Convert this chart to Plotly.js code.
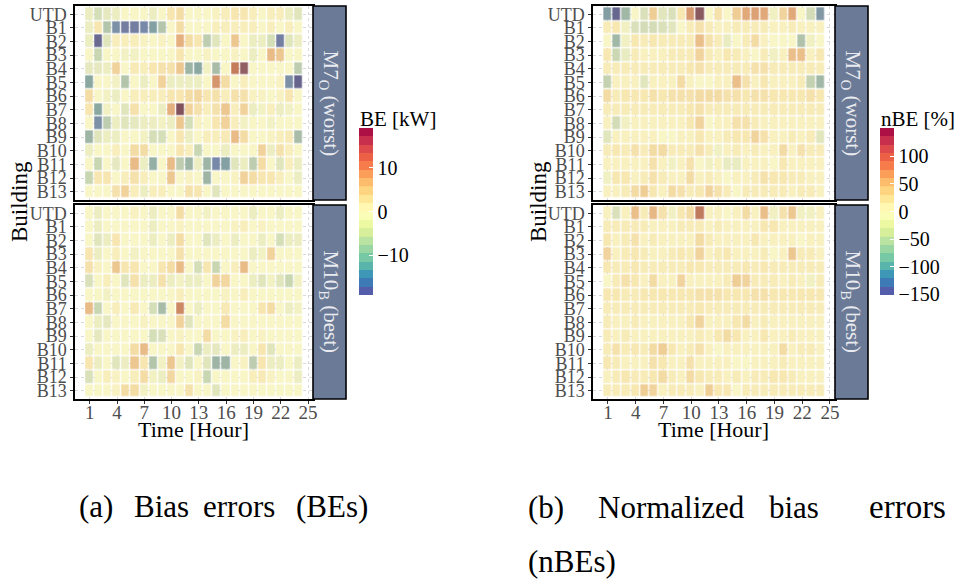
<!DOCTYPE html>
<html>
<head>
<meta charset="utf-8">
<script src="https://cdn.plot.ly/plotly-3.0.1.min.js"></script>
<style>html,body{margin:0;padding:0;background:#fff;}#chart{width:963px;height:579px;}</style>
</head>
<body>
<div id="chart"></div>
<script>
// ---------- DATA ----------
const hours = [1,2,3,4,5,6,7,8,9,10,11,12,13,14,15,16,17,18,19,20,21,22,23,24];
const buildings = ["UTD","B1","B2","B3","B4","B5","B6","B7","B8","B9","B10","B11","B12","B13"];
const xTickVals = [1,4,7,10,13,16,19,22,25];

// Bias errors [kW], model M7_O (worst)
const beWorst = [
 [-1,-3,-1.5,-1,0,0,0,-1,0,2,3,0,0,0,0.5,1,2,2,1,0,1,1,-1,-2],
 [-1,2,-6,-13,-15,-15,-14,-11,-6,0,3,0,0,0,1,1,1,1,1,0,1,0,1,0],
 [-1,-17,-2,1,1,1,0.5,0,0.5,0,7,3,2,-5,-2,0,5,0,-1,-1,-3,-15,-2,-1],
 [0,-4,0,0,-0.5,-0.5,0,0,0,0,2,0,0,0.5,0,0,0.5,0,-1,0,6,5,0,0],
 [-1.5,-1.5,-1,4,0,1.5,1,2,2.5,2.5,5,-8,-10,-0.5,-7,0,11,15,0,0,0,0,0,-5],
 [-10,0,0,-0.5,-6,0,-1,0,4,-1,-1,-1,-1,0,9,3,0,1,0,0,0,0.5,-13,-18],
 [3,0,-0.5,-1,0,1,1,1,1,2,2,3,3.5,2,2.5,1,2.5,2.5,0.5,0.5,0,0.5,2,0],
 [2,-10,-0.5,0,-2,2.5,0,0,-1,7,18,4,2.5,1,2.5,5,1,4,-1,-0.5,1,-1,-0.5,0],
 [0,-13,-5,-1,-2,-1.5,-1,-1,-0.5,-1,5,-3,0.5,0,2,4,1,-0.5,0,0,-0.5,0,0,0],
 [-8,-2,-1,-1,0,0,-0.5,-3,-3,0,2,-1,0,1,1,1.5,6,3,0,0,0.5,1,1.5,-7],
 [-1,0,0,1,0,3,3,0,0,0,2,1,-4,0,0,-1,0,0,0,4,-1,2.5,1,0],
 [0,-4,0,-1.5,0,6,-1,-9,0,6,-5,-8,-1,-8,-14,-11,-2,-1,-5,3,0,-2,1,-1],
 [-4,2,2,0,1,2.5,1,0,0,5,0,0.5,0,-8,0,0,0.5,4,3,2,2,1,0,-1],
 [0,0,0,2.5,4,1,-1,1,1,0,0,2.5,2,0,-2,0,0,0,0,0,0,0,0,0]
];

// Bias errors [kW], model M10_B (best)
const beBest = [
 [0,-1,0,0,0,0.5,0,-1,0,0,3,0,0,-0.5,0,0,0,0,-1,0,0,-1,0,0],
 [0,-1,0,0,0,0,0,-1,0,0,0.5,0,0,0,0,0,0.5,1,0,0.5,0,0,0,0],
 [0,-2,-1,2,0,0,0,-1,0,-1,3,0,0,-2,-1,0,-1,0,0,-1,0,-3,-1,-1],
 [2,-1,0,1,0,-0.5,0,0,0,0,2.5,0,0,0,0,0,0,0,-1,-0.5,4,0,0,0],
 [2.5,0.5,0,5,2,2,0,0,2,3,6,0,-3,2,-4,0,1,6,0,0,0,0,0,0],
 [-2.5,0,1,0,-2,2.5,-1,-1,2.5,-1,-0.5,-1,-1,0,4,3.5,0,0,-1,-2,-0.5,-2,-4,-0.5],
 [0,0,-0.5,0,0,0,0,0,0,0,1,0,0,0,0,0.5,0,1,0,0,0,0,0,0],
 [6,-4,0,1,0,1.5,0,-3,-7,0,10,0,-1,0,0,1.5,0,0,0,2,3,0,-1,-0.5],
 [0,-1,-1.5,0,0,0,0.5,0,0,0,4,-2,0,0,0,3,0,0,0,0,0,0,0,0],
 [0,-1.5,0,0,0,0,0,-3,-2.5,0,0.5,0,0,3,0,0,0.5,1,0,0.5,0,0,0,0],
 [-1,0,0,0,0,3,6,0,0,0,2,0,-4,-1,-1.5,0,-1,-1,0,2,-2,0,0,0],
 [2,-1,0,-2,-1,5,2,-6,-0.5,5,-0.5,-2,0,-2,-8,-8,0,0.5,-5,2,-1,-1,0,-1],
 [-2.5,0,1,0.5,0,1,3,-0.5,-1,3.5,0,0,0.5,-4,0,0,0,0,1,1.5,0.5,0,0,-1],
 [0,0,0,0.5,3,3,-0.5,0,0,0,0,2.5,0,0,-2,0,0,0,0,0,0,0,0,0]
];

// Normalized bias errors [%], model M7_O (worst)
const nbeWorst = [
 [-90,-140,-60,0,-20,35,-15,-20,15,70,130,0,20,0,35,60,65,60,-5,30,60,0,-25,-95],
 [10,15,-5,-20,-25,-25,-20,-15,0,10,20,10,5,5,10,10,10,10,5,5,10,5,5,5],
 [0,-60,-5,15,10,15,10,10,10,10,45,20,10,-10,0,10,25,5,0,0,0,-50,-5,0],
 [15,-30,-10,10,5,5,5,10,10,10,30,10,5,15,10,5,0,10,-5,5,45,45,5,15],
 [10,10,10,10,10,10,10,10,10,15,20,10,10,10,10,10,20,20,10,10,10,10,10,10],
 [-35,5,5,5,-15,5,5,5,25,5,0,0,5,5,45,20,5,15,5,5,5,10,-35,-60],
 [25,10,15,15,15,20,15,20,20,20,25,25,25,20,20,15,20,20,15,15,15,15,20,15],
 [10,10,10,10,10,10,10,10,10,15,20,10,10,10,10,10,10,10,10,10,10,10,10,10],
 [5,-25,-5,5,5,5,5,5,5,15,30,0,5,5,20,20,10,5,5,5,5,5,5,5],
 [-15,5,5,5,5,5,0,0,5,5,15,5,5,10,15,15,30,20,5,5,10,5,10,-15],
 [10,15,10,20,10,25,25,10,10,10,20,10,-5,5,10,5,10,5,5,25,5,20,10,10],
 [5,5,5,5,5,20,5,-5,5,20,0,-5,5,-10,-10,5,5,5,0,15,5,5,5,5],
 [-5,15,15,5,10,20,10,5,5,25,5,10,5,0,5,5,10,20,15,15,10,10,5,5],
 [5,5,10,25,35,15,5,25,20,10,15,30,20,10,0,10,10,10,10,10,5,10,10,5]
];

// Normalized bias errors [%], model M10_B (best)
const nbeBest = [
 [5,-20,5,45,10,50,20,-5,15,25,90,5,5,0,5,25,5,45,-5,20,40,-5,-5,5],
 [10,10,10,10,10,5,5,5,10,10,10,5,10,5,5,5,5,15,15,5,5,5,5,5],
 [15,5,10,20,5,10,5,5,5,5,25,10,5,5,5,5,15,5,5,5,5,0,5,5],
 [30,5,10,15,10,5,5,10,15,10,30,5,10,15,5,5,5,10,0,5,40,10,10,5],
 [15,10,10,15,10,10,10,10,10,15,15,10,10,10,10,15,10,15,10,10,10,10,10,10],
 [0,10,20,15,5,25,5,5,30,5,5,5,5,10,35,30,10,10,10,5,10,5,-5,10],
 [15,15,10,10,15,15,15,15,15,15,20,20,20,15,15,15,20,20,15,15,15,15,15,15],
 [10,10,10,10,10,10,10,10,10,10,15,10,10,10,10,10,10,10,10,10,10,10,10,10],
 [10,5,5,10,5,5,5,5,5,15,30,5,5,5,15,25,5,10,5,5,5,5,5,5],
 [10,5,10,5,5,5,5,5,5,5,10,5,15,25,15,5,5,15,5,5,10,5,5,5],
 [10,20,10,15,10,25,35,15,5,10,20,5,0,5,5,5,5,5,5,25,5,10,10,5],
 [15,10,5,5,5,20,15,5,5,20,5,5,5,5,0,0,5,5,5,10,5,5,5,5],
 [5,10,15,10,10,15,25,10,5,25,15,10,10,5,10,5,10,10,15,15,10,5,5,5],
 [10,10,10,15,35,30,5,10,10,10,5,35,15,15,0,10,10,10,10,10,10,10,10,10]
];

const beTicks = [-10, 0, 10];
const nbeTicks = [-150, -100, -50, 0, 50, 100];

// ---------- STYLE ----------
const W = 963, H = 579;
const px = v => v / W;
const py = v => 1 - v / H;
const SERIF = "Liberation Serif, Times New Roman, serif";
const rowPos = buildings.map((b, i) => i);   // row index of each building

const muted = [
 [0,'#625e8a'],[0.053,'#6a6a90'],[0.132,'#7788a8'],[0.237,'#8aa8a0'],[0.316,'#a8bca8'],
 [0.395,'#c9d6b2'],[0.461,'#e6e9bf'],[0.5,'#f8f5c6'],[0.553,'#f7e6b0'],[0.618,'#efcd95'],
 [0.697,'#e2aa7a'],[0.789,'#c47c5c'],[0.895,'#926062'],[1,'#7a4a58']
];

const spectral = ['#5e4fa2','#3288bd','#66c2a5','#abdda4','#e6f598','#ffffbf','#fee08b','#fdae61','#f46d43','#d53e4f','#9e0142'];
function hex2rgb(h){return [parseInt(h.slice(1,3),16),parseInt(h.slice(3,5),16),parseInt(h.slice(5,7),16)];}
function sampleSpectral(t){
  const p = t*(spectral.length-1), i = Math.min(Math.floor(p), spectral.length-2), f = p-i;
  const a = hex2rgb(spectral[i]), b = hex2rgb(spectral[i+1]);
  return 'rgb(' + a.map((v,k)=>Math.round(v+(b[k]-v)*f)).join(',') + ')';
}
const NB = 20, stepped = [];
for (let i=0;i<NB;i++){
  const c = sampleSpectral((i+0.5)/NB);
  stepped.push([i===0 ? 0 : i/NB + 0.0005, c]);
  stepped.push([i===NB-1 ? 1 : (i+1)/NB - 0.0005, c]);
}

const BE_MIN=-19, BE_MAX=19, NBE_MIN=-151, NBE_MAX=151;
const XR = [-0.62, 25.55], YR = [13.6, -0.6];

function hm(z, xa, ya, zmin, zmax){
  return {type:'heatmap', x:hours, y:rowPos, z:z, xaxis:xa, yaxis:ya,
    colorscale:muted, zmin:zmin, zmax:zmax, showscale:false, xgap:1.3, ygap:1.3};
}
function cbTrace(xa, ya, zmin, zmax, x0, tickvals){
  return {type:'scatter', mode:'markers', x:[200,201], y:[0,1], xaxis:xa, yaxis:ya, hoverinfo:'skip',
    marker:{color:[zmin,zmax], cmin:zmin, cmax:zmax, colorscale:stepped, showscale:true, size:2,
      colorbar:{x:px(x0), xanchor:'left', xpad:0, y:py(211.5), yanchor:'middle', ypad:0,
        len:167, lenmode:'pixels', thickness:14, outlinewidth:0,
        tickvals:tickvals, ticks:'inside', ticklen:4, tickcolor:'#ffffff', tickwidth:1,
        tickfont:{family:SERIF, size:20, color:'#000'}}}};
}

const data = [
  hm(beWorst,'x','y',BE_MIN,BE_MAX),
  hm(beBest,'x2','y2',BE_MIN,BE_MAX),
  hm(nbeWorst,'x3','y3',NBE_MIN,NBE_MAX),
  hm(nbeBest,'x4','y4',NBE_MIN,NBE_MAX),
  cbTrace('x','y',BE_MIN,BE_MAX,359,beTicks),
  cbTrace('x3','y3',NBE_MIN,NBE_MAX,880,nbeTicks)
];

function xAx(dom, anchor, labels){
  return {domain:dom, anchor:anchor, range:XR, tickvals:xTickVals, showticklabels:labels,
    ticks: labels ? 'outside' : '', ticklen:3, tickcolor:'#333', tickwidth:1,
    ticklabelstandoff:-7,
    tickfont:{family:SERIF, size:19, color:'#4d4d4d'},
    showgrid:true, gridcolor:'#d9d9d9', griddash:'dot', gridwidth:1, zeroline:false,
    showline:true, mirror:true, linecolor:'#000', linewidth:1.6, fixedrange:true};
}
function yAx(dom, anchor){
  return {domain:dom, anchor:anchor, range:YR, tickvals:rowPos, ticktext:buildings,
    ticks:'outside', ticklen:3, tickcolor:'#333', tickwidth:1,
    tickfont:{family:SERIF, size:18, color:'#4d4d4d'},
    showgrid:true, gridcolor:'#d9d9d9', griddash:'dot', gridwidth:1, zeroline:false,
    showline:true, mirror:true, linecolor:'#000', linewidth:1.6, fixedrange:true};
}

const LX = [px(75), px(313)], RX = [px(593), px(835)];
const TOPY = [py(200), py(6)], BOTY = [py(399), py(205)];

const shapes = [], annotations = [];
function strip(x0, x1, y0, y1, txt){
  shapes.push({type:'rect', xref:'paper', yref:'paper', x0:px(x0), x1:px(x1), y0:py(y1), y1:py(y0),
    fillcolor:'#6b7a96', line:{color:'#000', width:1.6}, layer:'above'});
  annotations.push({xref:'paper', yref:'paper', x:px((x0+x1)/2), y:py((y0+y1)/2), text:txt,
    xanchor:'center', yanchor:'middle',
    textangle:90, showarrow:false, font:{family:SERIF, size:21, color:'#e9ebf0'}});
}
strip(313,346,6,200,'M7<sub>O</sub> (worst)');
strip(313,346,205,399,'M10<sub>B</sub> (best)');
strip(835,868,6,200,'M7<sub>O</sub> (worst)');
strip(835,868,205,399,'M10<sub>B</sub> (best)');

function txt(x, y, s, size, opts){
  annotations.push(Object.assign({xref:'paper', yref:'paper', x:px(x), y:py(y), text:s, showarrow:false,
    xanchor:'center', yanchor:'middle',
    font:{family:SERIF, size:size, color:'#000'}}, opts||{}));
}
txt(19, 202, 'Building', 23, {textangle:-90});
txt(538, 202, 'Building', 23, {textangle:-90});
txt(193, 429, 'Time [Hour]', 22);
txt(713, 429, 'Time [Hour]', 22);
txt(358, 119, 'BE [kW]', 21, {xanchor:'left'});
txt(879, 119, 'nBE [%]', 21, {xanchor:'left'});
const capFont = 31;
txt(77, 506, '(a)', capFont, {xanchor:'left'});
txt(132, 506, 'Bias', capFont, {xanchor:'left'});
txt(201, 506, 'errors', capFont, {xanchor:'left'});
txt(294, 506, '(BEs)', capFont, {xanchor:'left'});
txt(526, 507, '(b)', capFont, {xanchor:'left'});
txt(596, 507, 'Normalized', capFont, {xanchor:'left'});
txt(767, 507, 'bias', capFont, {xanchor:'left'});
txt(867, 507, 'errors', 33, {xanchor:'left'});
txt(526, 561, '(nBEs)', capFont, {xanchor:'left'});

const layout = {
  width:W, height:H, margin:{l:0,r:0,t:0,b:0}, autosize:false,
  paper_bgcolor:'#fff', plot_bgcolor:'#fff', showlegend:false,
  xaxis:xAx(LX,'y',false), yaxis:yAx(TOPY,'x'),
  xaxis2:xAx(LX,'y2',true), yaxis2:yAx(BOTY,'x2'),
  xaxis3:xAx(RX,'y3',false), yaxis3:yAx(TOPY,'x3'),
  xaxis4:xAx(RX,'y4',true), yaxis4:yAx(BOTY,'x4'),
  shapes:shapes, annotations:annotations
};

Plotly.newPlot('chart', data, layout, {displayModeBar:false, staticPlot:true});
</script>
</body>
</html>
